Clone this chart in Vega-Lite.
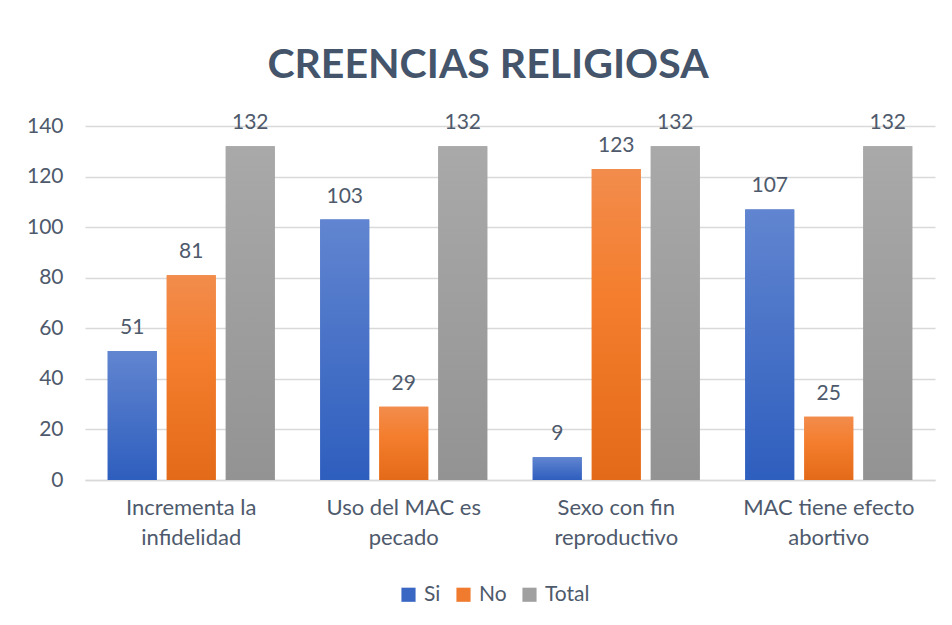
{
  "$schema": "https://vega.github.io/schema/vega-lite/v6.json",
  "width": 850,
  "height": 354,
  "autosize": "none",
  "padding": {"left": 85, "top": 126, "right": 17, "bottom": 145},
  "background": "white",
  "title": {
    "text": "CREENCIAS RELIGIOSA",
    "font": "Lato",
    "fontSize": 41,
    "fontWeight": "bold",
    "color": "#44546A",
    "anchor": "middle",
    "dx": -22,
    "offset": 25
  },
  "data": {
    "values": [
      {"categoria": "Incrementa la infidelidad", "serie": "Si", "valor": 51},
      {"categoria": "Incrementa la infidelidad", "serie": "No", "valor": 81},
      {"categoria": "Incrementa la infidelidad", "serie": "Total", "valor": 132},
      {"categoria": "Uso del MAC es pecado", "serie": "Si", "valor": 103},
      {"categoria": "Uso del MAC es pecado", "serie": "No", "valor": 29},
      {"categoria": "Uso del MAC es pecado", "serie": "Total", "valor": 132},
      {"categoria": "Sexo con fin reproductivo", "serie": "Si", "valor": 9},
      {"categoria": "Sexo con fin reproductivo", "serie": "No", "valor": 123},
      {"categoria": "Sexo con fin reproductivo", "serie": "Total", "valor": 132},
      {"categoria": "MAC tiene efecto abortivo", "serie": "Si", "valor": 107},
      {"categoria": "MAC tiene efecto abortivo", "serie": "No", "valor": 25},
      {"categoria": "MAC tiene efecto abortivo", "serie": "Total", "valor": 132}
    ]
  },
  "encoding": {
    "x": {
      "field": "categoria",
      "type": "nominal",
      "sort": null,
      "scale": {"paddingInner": 0.214, "paddingOuter": 0.107},
      "axis": {
        "title": null,
        "labelAngle": 0,
        "labelFont": "Lato",
        "labelFontSize": 22,
        "labelColor": "#4E5A6C",
        "labelLineHeight": 30,
        "labelPadding": 17,
        "labelExpr": "[slice(datum.label, 0, lastindexof(datum.label, ' ')), slice(datum.label, lastindexof(datum.label, ' ') + 1)]",
        "ticks": false,
        "domain": true,
        "domainColor": "#D9D9D9",
        "domainWidth": 1.5,
        "grid": false
      }
    },
    "xOffset": {
      "field": "serie",
      "type": "nominal",
      "sort": ["Si", "No", "Total"],
      "scale": {"paddingInner": 0.17, "paddingOuter": 0}
    },
    "y": {
      "field": "valor",
      "type": "quantitative",
      "scale": {"domain": [0, 140]},
      "axis": {
        "title": null,
        "values": [0, 20, 40, 60, 80, 100, 120, 140],
        "labelFont": "Lato",
        "labelFontSize": 21,
        "labelColor": "#4E5A6C",
        "labelPadding": 22,
        "ticks": false,
        "domain": false,
        "grid": true,
        "gridColor": "#D9D9D9",
        "gridWidth": 1.5
      }
    }
  },
  "layer": [
    {
      "mark": {"type": "bar"},
      "encoding": {
        "color": {
          "field": "serie",
          "type": "nominal",
          "sort": ["Si", "No", "Total"],
          "scale": {"domain": ["Si", "No", "Total"], "range": ["#3A66C4", "#F07A2E", "#A0A0A0"]},
          "legend": {
            "title": null,
            "orient": "none",
            "legendX": 313,
            "legendY": 458,
            "direction": "horizontal",
            "symbolType": "square",
            "symbolSize": 200,
            "symbolStrokeWidth": 0,
            "symbolOpacity": 1,
            "labelFont": "Lato",
            "labelFontSize": 21,
            "labelColor": "#4E5A6C",
            "columnPadding": 12,
            "labelOffset": 5
          }
        }
      }
    },
    {
      "mark": {"type": "bar"},
      "encoding": {
        "fill": {
          "condition": [
            {
              "test": "datum.serie === 'Si'",
              "value": {
                "gradient": "linear", "x1": 0, "y1": 0, "x2": 0, "y2": 1,
                "stops": [{"offset": 0, "color": "#6185D0"}, {"offset": 1, "color": "#2E5EBE"}]
              }
            },
            {
              "test": "datum.serie === 'No'",
              "value": {
                "gradient": "linear", "x1": 0, "y1": 0, "x2": 0, "y2": 1,
                "stops": [{"offset": 0, "color": "#F28C4C"}, {"offset": 0.4, "color": "#F47E2E"}, {"offset": 1, "color": "#E36A18"}]
              }
            }
          ],
          "value": {
            "gradient": "linear", "x1": 0, "y1": 0, "x2": 0, "y2": 1,
            "stops": [{"offset": 0, "color": "#A9A9A9"}, {"offset": 1, "color": "#939393"}]
          }
        }
      }
    },
    {
      "mark": {"type": "text", "baseline": "alphabetic", "dy": -17, "font": "Lato", "fontSize": 21, "color": "#4E5A6C"},
      "encoding": {
        "text": {"field": "valor", "type": "quantitative"}
      }
    }
  ],
  "config": {
    "view": {"stroke": null}
  }
}
